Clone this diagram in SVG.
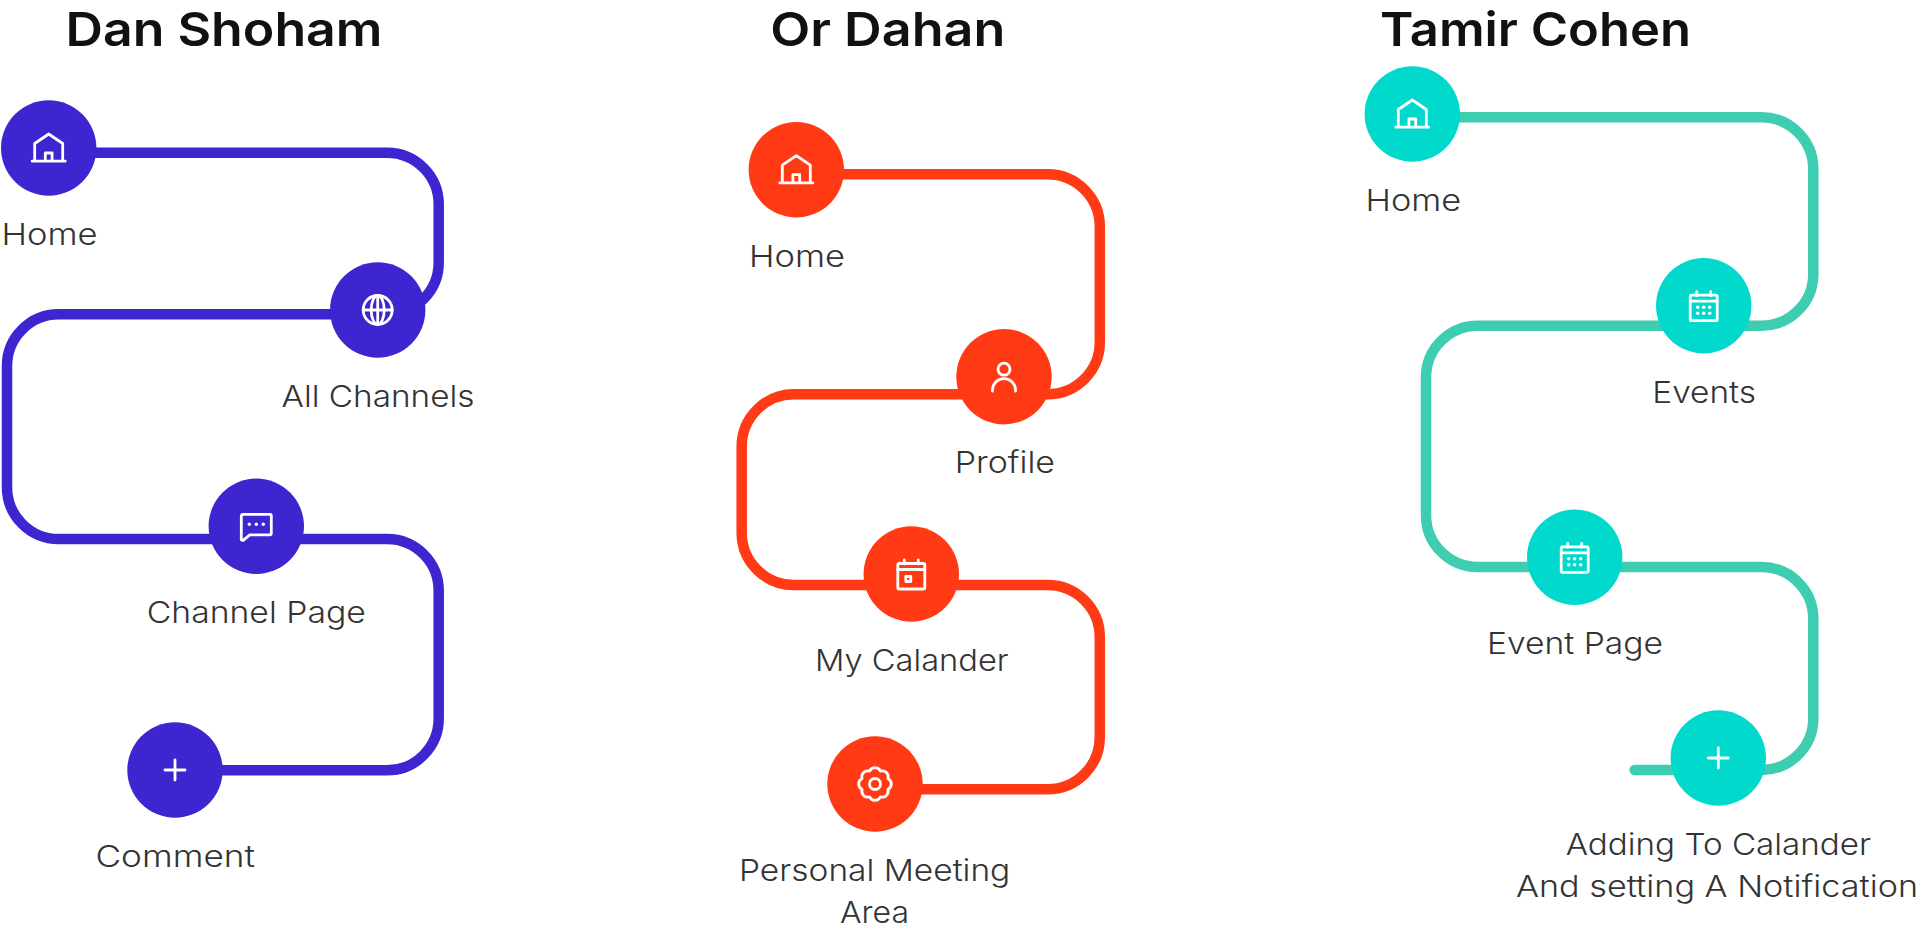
<svg xmlns="http://www.w3.org/2000/svg" width="1920" height="931" viewBox="0 0 1920 931">
<style>
text{font-family:"Inter","Noto Sans","Liberation Sans",sans-serif}
.t{font-size:47px;font-weight:600;fill:#111}
.l{font-size:30px;font-weight:300;fill:#333}
.c{fill:none;stroke-width:10.5;stroke-linecap:round;stroke-linejoin:round}
.i{fill:none;stroke:#fff;stroke-width:2.8;stroke-linecap:round;stroke-linejoin:round}
.d{fill:#fff;stroke:none}
.blue{fill:#3d25cf}.orange{fill:#ff3a14}.teal{fill:#00d9cc}
</style>
<defs>
<g id="i-home" class="i"><path d="M-14,12.500V-4.500L0,-14L14,-4.500V12.500M-16.500,13.200H16.500M-3.400,12.500V5H3.400V12.500"/></g>
<g id="i-globe" class="i"><circle r="14.500"/><ellipse rx="6.500" ry="14.500"/><path d="M0,-14.500V14.500M-14.500,0H14.500"/></g>
<g id="i-chat" class="i"><path d="M-13,-12H14a1,1 0 0 1 1,1V7.500a1,1 0 0 1-1,1H-6.500L-12,13a1.500,1.500 0 0 1-3,-1V-10a2,2 0 0 1 2,-2Z"/><circle class="d" cx="-7" cy="-2" r="1.700"/><circle class="d" cx="0" cy="-2" r="1.700"/><circle class="d" cx="7" cy="-2" r="1.700"/></g>
<g id="i-plus" class="i"><path d="M-10,0H10M0,-10V10"/></g>
<g id="i-user" class="i"><circle cy="-7.500" r="6"/><path d="M-11.500,14.500V13a11.500,11 0 0 1 23,0V14.500"/></g>
<g id="i-cal" class="i"><rect x="-13.500" y="-10.500" width="27" height="25.500" rx="1.500"/><path d="M-13.500,-4.500H13.500M-7,-14V-10M7,-14V-10"/></g>
<g id="i-cal-box"><use href="#i-cal"/><rect class="i" x="-5.500" y="2.500" width="5" height="5"/></g>
<g id="i-cal-dots"><use href="#i-cal"/><g class="d"><circle cx="-6" cy="1.500" r="1.700"/><circle cx="0" cy="1.500" r="1.700"/><circle cx="6" cy="1.500" r="1.700"/><circle cx="-6" cy="7.500" r="1.700"/><circle cx="0" cy="7.500" r="1.700"/><circle cx="6" cy="7.500" r="1.700"/></g></g>
<g id="i-gear" class="i"><path d="M12.900,5.400A6,6 0 0 1 5.400,12.900A6,6 0 0 1-5.400,12.900A6,6 0 0 1-12.900,5.400A6,6 0 0 1-12.900,-5.400A6,6 0 0 1-5.400,-12.900A6,6 0 0 1 5.400,-12.900A6,6 0 0 1 12.900,-5.400A6,6 0 0 1 12.900,5.400Z"/><circle r="5.500"/></g>
</defs>
<rect width="1920" height="931" fill="#fff"/>
<text id="title-dan" class="t" x="65.500" y="46" textLength="317" lengthAdjust="spacingAndGlyphs">Dan Shoham</text>
<text id="title-or" class="t" x="770.300" y="46" textLength="235" lengthAdjust="spacingAndGlyphs">Or Dahan</text>
<text id="title-tamir" class="t" x="1380" y="46" textLength="311" lengthAdjust="spacingAndGlyphs">Tamir Cohen</text>
<g id="connectors">
<path class="c" stroke="#3d25cf" d="M48.700,152.700H387A51.700,51.700 0 0 1 438.700,204.400V262.600A51.700,51.700 0 0 1 387,314.300H58.700A51.700,51.700 0 0 0 7,366V487.300A51.700,51.700 0 0 0 58.700,539H387A51.700,51.700 0 0 1 438.700,590.700V718.600A51.700,51.700 0 0 1 387,770.300H175"/>
<path class="c" stroke="#ff3a14" d="M796.300,174.300H1047.500A52.300,52.300 0 0 1 1099.800,226.600V342A52.300,52.300 0 0 1 1047.500,394.300H794A52.300,52.300 0 0 0 741.700,446.600V532.700A52.300,52.300 0 0 0 794,585H1047.500A52.300,52.300 0 0 1 1099.800,637.300V737A52.300,52.300 0 0 1 1047.500,789.300H875"/>
<path class="c" stroke="#3ecdb0" d="M1412.300,117.300H1761.500A51.800,51.800 0 0 1 1813.300,169.100V273.900A51.800,51.800 0 0 1 1761.500,325.700H1477.800A51.800,51.800 0 0 0 1426,377.500V515.200A51.800,51.800 0 0 0 1477.800,567H1761.500A51.800,51.800 0 0 1 1813.300,618.800V718.200A51.800,51.800 0 0 1 1761.500,770H1634.600"/>
</g>
<g id="dan-home"><circle class="blue" cx="48.700" cy="148" r="47.700"/><use href="#i-home" x="48.700" y="148"/><text class="l" x="1.500" y="245" textLength="96" lengthAdjust="spacingAndGlyphs">Home</text></g>
<g id="dan-all-channels"><circle class="blue" cx="377.700" cy="310" r="47.700"/><use href="#i-globe" x="377.700" y="310"/><text class="l" x="281.500" y="407.300" textLength="193" lengthAdjust="spacingAndGlyphs">All Channels</text></g>
<g id="dan-channel-page"><circle class="blue" cx="256.300" cy="526.300" r="47.700"/><use href="#i-chat" x="256.300" y="526.300"/><text class="l" x="146.800" y="623.300" textLength="219" lengthAdjust="spacingAndGlyphs">Channel Page</text></g>
<g id="dan-comment"><circle class="blue" cx="175" cy="770" r="47.700"/><use href="#i-plus" x="175" y="770"/><text class="l" x="95.500" y="866.700" textLength="159.500" lengthAdjust="spacingAndGlyphs">Comment</text></g>
<g id="or-home"><circle class="orange" cx="796.300" cy="169.700" r="47.700"/><use href="#i-home" x="796.300" y="169.700"/><text class="l" x="749" y="266.700" textLength="96" lengthAdjust="spacingAndGlyphs">Home</text></g>
<g id="or-profile"><circle class="orange" cx="1004" cy="376.700" r="47.700"/><use href="#i-user" x="1004" y="376.700"/><text class="l" x="954.700" y="473.300" textLength="100.300" lengthAdjust="spacingAndGlyphs">Profile</text></g>
<g id="or-my-calander"><circle class="orange" cx="911.300" cy="574" r="47.700"/><use href="#i-cal-box" x="911.300" y="574"/><text class="l" x="815" y="671" textLength="193.600" lengthAdjust="spacingAndGlyphs">My Calander</text></g>
<g id="or-personal"><circle class="orange" cx="875" cy="784" r="47.700"/><use href="#i-gear" x="875" y="784"/><text class="l" x="739" y="881" textLength="271.300" lengthAdjust="spacingAndGlyphs">Personal Meeting</text><text class="l" x="840" y="922.700" textLength="69" lengthAdjust="spacingAndGlyphs">Area</text></g>
<g id="tamir-home"><circle class="teal" cx="1412.300" cy="114" r="47.700"/><use href="#i-home" x="1412.300" y="114"/><text class="l" x="1365.500" y="210.700" textLength="95.700" lengthAdjust="spacingAndGlyphs">Home</text></g>
<g id="tamir-events"><circle class="teal" cx="1703.700" cy="305.700" r="47.700"/><use href="#i-cal-dots" x="1703.700" y="305.700"/><text class="l" x="1652.300" y="402.700" textLength="103.700" lengthAdjust="spacingAndGlyphs">Events</text></g>
<g id="tamir-event-page"><circle class="teal" cx="1574.700" cy="557.300" r="47.700"/><use href="#i-cal-dots" x="1574.700" y="557.300"/><text class="l" x="1487" y="654" textLength="176" lengthAdjust="spacingAndGlyphs">Event Page</text></g>
<g id="tamir-adding"><circle class="teal" cx="1718.300" cy="758" r="47.700"/><use href="#i-plus" x="1718.300" y="758"/><text class="l" x="1565.700" y="855" textLength="305.300" lengthAdjust="spacingAndGlyphs">Adding To Calander</text><text class="l" x="1516" y="896.700" textLength="402" lengthAdjust="spacingAndGlyphs">And setting A Notification</text></g>
</svg>
